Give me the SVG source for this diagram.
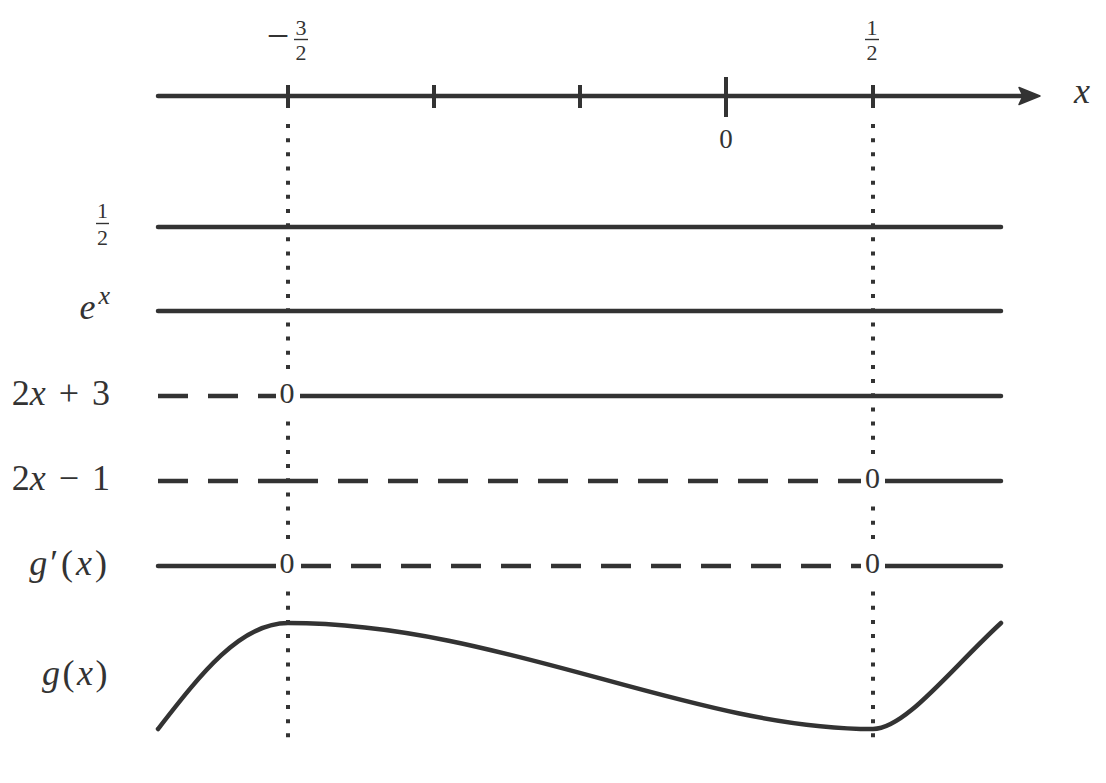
<svg xmlns="http://www.w3.org/2000/svg" width="1106" height="783" viewBox="0 0 1106 783" font-family="Liberation Serif, serif">
<style>
.ln{stroke:#333;stroke-width:4.5;fill:none;stroke-linecap:round}
.dash{stroke:#333;stroke-width:4.5;fill:none;stroke-dasharray:30 20}
.dot{stroke:#333;stroke-width:4;fill:none;stroke-dasharray:4 10.17}
.tick{stroke:#333;stroke-width:4}
.bar{stroke:#333;stroke-width:1.4}
.t{fill:#333}
.i{font-style:italic}
.bg{fill:#fff}
</style>
<rect width="1106" height="783" fill="#fff"/>
<g id="guides">
<line class="dot" x1="288" y1="124" x2="288" y2="741"/>
<line class="dot" x1="873" y1="124" x2="873" y2="741"/>
</g>
<g id="axis">
<line class="ln" x1="158" y1="96" x2="1024" y2="96"/>
<polygon points="1040,96 1019,87.5 1023,96 1019,104.5" fill="#333" stroke="#333" stroke-width="1.5" stroke-linejoin="round"/>
<line class="tick" x1="288" y1="85" x2="288" y2="108"/>
<line class="tick" x1="434" y1="85" x2="434" y2="108"/>
<line class="tick" x1="580" y1="85" x2="580" y2="108"/>
<line class="tick" x1="726" y1="77" x2="726" y2="117"/>
<line class="tick" x1="873" y1="85" x2="873" y2="108"/>
<text class="t" x="278" y="48.5" font-size="40" text-anchor="middle">−</text>
<text class="t" x="301" y="35" font-size="22" text-anchor="middle">3</text>
<line class="bar" x1="294" y1="39.5" x2="308" y2="39.5"/>
<text class="t" x="301" y="60" font-size="22" text-anchor="middle">2</text>
<text class="t" x="872" y="35" font-size="22" text-anchor="middle">1</text>
<line class="bar" x1="865" y1="39.5" x2="879" y2="39.5"/>
<text class="t" x="872" y="60" font-size="22" text-anchor="middle">2</text>
<text class="t" x="726" y="148" font-size="27" text-anchor="middle">0</text>
<text class="t i" x="1082" y="103" font-size="36" text-anchor="middle">x</text>
</g>
<g id="connectors">
<line class="ln" x1="158" y1="227" x2="1001" y2="227"/>
<line class="ln" x1="158" y1="311" x2="1001" y2="311"/>
<line class="dash" x1="158" y1="396" x2="288" y2="396"/>
<line class="ln" x1="288" y1="396" x2="1001" y2="396"/>
<line class="dash" x1="158" y1="481" x2="288" y2="481"/>
<line class="dash" x1="288" y1="481" x2="873" y2="481"/>
<line class="ln" x1="873" y1="481" x2="1001" y2="481"/>
<line class="ln" x1="158" y1="566" x2="288" y2="566"/>
<line class="dash" x1="301" y1="566" x2="873" y2="566"/>
<line class="ln" x1="873" y1="566" x2="1001" y2="566"/>
<path class="ln" stroke-width="5" d="M158,729 C200,675 240,623 288,623 C500,623 690,729 873,729 C905,729 950,670 1001,623"/>
</g>
<g id="row-half">
<text class="t" x="102.5" y="218" font-size="22" text-anchor="middle">1</text>
<line class="bar" x1="96" y1="223.5" x2="109" y2="223.5"/>
<text class="t" x="102.5" y="245" font-size="22" text-anchor="middle">2</text>
</g>
<g id="row-ex">
<text class="t" x="110" y="319" font-size="36" text-anchor="end"><tspan class="i">e</tspan><tspan class="i" font-size="26" dx="3" dy="-15">x</tspan></text>
</g>
<g id="row-2xp3">
<text class="t" x="110" y="405" font-size="36" text-anchor="end" word-spacing="4" xml:space="preserve">2<tspan class="i">x</tspan> + 3</text>
<rect class="bg" x="276" y="379" width="24" height="34"/>
<text class="t" x="287" y="403" font-size="30" text-anchor="middle">0</text>
</g>
<g id="row-2xm1">
<text class="t" x="110" y="490" font-size="36" text-anchor="end" word-spacing="4" xml:space="preserve">2<tspan class="i">x</tspan> − 1</text>
<rect class="bg" x="861" y="464" width="24" height="34"/>
<text class="t" x="872.5" y="488" font-size="30" text-anchor="middle">0</text>
</g>
<g id="row-gprime">
<text class="t" x="110" y="575" font-size="36" text-anchor="end" letter-spacing="3"><tspan class="i">g</tspan>′(<tspan class="i">x</tspan>)</text>
<rect class="bg" x="276" y="549" width="24" height="34"/>
<text class="t" x="287" y="573" font-size="30" text-anchor="middle">0</text>
<rect class="bg" x="861" y="549" width="24" height="34"/>
<text class="t" x="872.5" y="573" font-size="30" text-anchor="middle">0</text>
</g>
<g id="row-g">
<text class="t" x="110" y="685" font-size="36" text-anchor="end" letter-spacing="2.5"><tspan class="i">g</tspan>(<tspan class="i">x</tspan>)</text>
</g>
</svg>
